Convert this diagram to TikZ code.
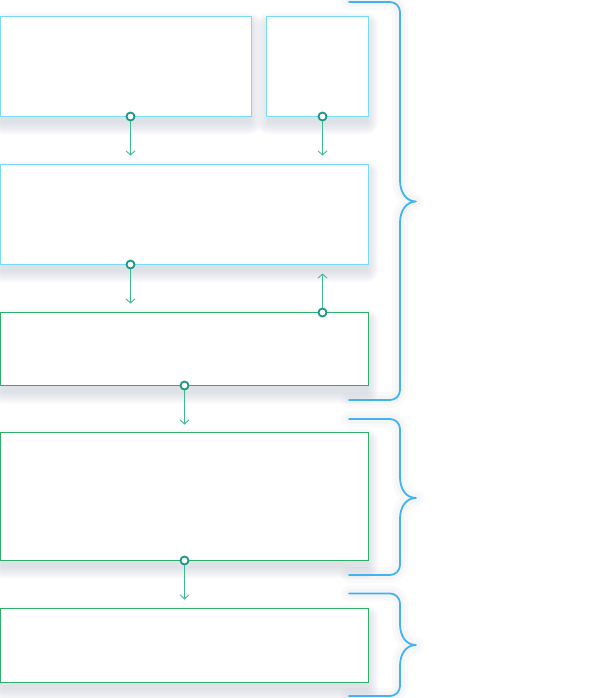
\documentclass[tikz,border=0pt]{standalone}
\usetikzlibrary{arrows.meta,calc,backgrounds}
\definecolor{cyanbd}{RGB}{120,220,248}
\definecolor{greenbd}{RGB}{45,175,105}
\definecolor{conncol}{RGB}{60,185,145}
\definecolor{dotcol}{RGB}{25,155,130}
\definecolor{bracecol}{RGB}{65,180,240}
\definecolor{shadowcol}{RGB}{60,70,110}
\tikzset{
  boxbase/.style={draw, fill=white, inner sep=0pt, outer sep=0pt, anchor=north west, line width=1pt},
  cbox/.style={boxbase, draw=cyanbd},
  gbox/.style={boxbase, draw=greenbd},
  dot/.style={circle, draw=dotcol, fill=white, line width=1.8pt, minimum size=8pt, inner sep=0pt},
  conn/.style={draw=conncol, line width=0.9pt, -{Straight Barb[length=4pt,width=9pt,line width=0.9pt]}},
  bracepath/.style={draw=bracecol, line width=1.8pt, line cap=round, line join=round,
    preaction={draw=shadowcol, draw opacity=0.022, line width=16pt, line join=round, line cap=round},
    preaction={draw=shadowcol, draw opacity=0.022, line width=9pt, line join=round, line cap=round}}
}
\begin{document}
\begin{tikzpicture}[x=1pt,y=-1pt]
\useasboundingbox (0,0) rectangle (598,698);
% boxes
\node[cbox, minimum width=251pt, minimum height=100pt] (A) at (0.5,16.5) {};
\node[cbox, minimum width=102pt, minimum height=100pt] (B) at (266.5,16.5) {};
\node[cbox, minimum width=368pt, minimum height=100pt] (C) at (0.5,164.5) {};
\node[gbox, minimum width=368pt, minimum height=73pt] (D) at (0.5,312.5) {};
\node[gbox, minimum width=368pt, minimum height=128pt] (E) at (0.5,432.5) {};
\node[gbox, minimum width=368pt, minimum height=74pt] (F) at (0.5,608.5) {};
% soft shadows
\begin{scope}[on background layer]
\fill[white] (0,0) rectangle (598,698);
\foreach \n in {A,B,C,D,E,F}{
  \foreach \i in {1,...,12}{
    \fill[shadowcol, fill opacity=0.011, rounded corners=\i pt]
      ($(\n.north west)+(-\i+2,-\i+8)$) rectangle ($(\n.south east)+(\i-2,\i+6)$);
  }
}
\end{scope}
% connector start dots
\path (A.south west) ++(130,0) node[dot] (a1) {};
\path (B.south west) ++(56,0) node[dot] (b1) {};
\path (C.south west) ++(130,0) node[dot] (c1) {};
\path (D.north west) ++(322,0) node[dot] (d1) {};
\path (D.south west) ++(184,0) node[dot] (d2) {};
\path (E.south west) ++(184,0) node[dot] (e1) {};
% free ends
\coordinate (a1e) at ($(a1)+(0,39)$);
\coordinate (b1e) at ($(b1)+(0,39)$);
\coordinate (c1e) at ($(c1)+(0,39)$);
\coordinate (d1e) at ($(d1)+(0,-39)$);
\coordinate (d2e) at ($(d2)+(0,39)$);
\coordinate (e1e) at ($(e1)+(0,39)$);
\draw[conn] (a1.south) -- (a1e);
\draw[conn] (b1.south) -- (b1e);
\draw[conn] (c1.south) -- (c1e);
\draw[conn] (d1.north) -- (d1e);
\draw[conn] (d2.south) -- (d2e);
\draw[conn] (e1.south) -- (e1e);
% braces
\draw[bracepath] (349,2) -- (390,2) .. controls (395.5,2) and (400,6.5) .. (400,12)
  -- (400,180) .. controls (400,192) and (406,201.5) .. (416,201.5)
  .. controls (406,201.5) and (400,211) .. (400,223)
  -- (400,390) .. controls (400,395.5) and (395.5,400) .. (390,400) -- (349,400);
\draw[bracepath] (349,419) -- (390,419) .. controls (395.5,419) and (400,423.5) .. (400,429)
  -- (400,477) .. controls (400,489) and (406,498) .. (416,498)
  .. controls (406,498) and (400,507) .. (400,519)
  -- (400,565) .. controls (400,570.5) and (395.5,575) .. (390,575) -- (349,575);
\draw[bracepath] (349,593.5) -- (390,593.5) .. controls (395.5,593.5) and (400,598) .. (400,603.5)
  -- (400,624) .. controls (400,636) and (406,645) .. (416,645)
  .. controls (406,645) and (400,654) .. (400,666)
  -- (400,686) .. controls (400,691.5) and (395.5,696) .. (390,696) -- (349,696);
\end{tikzpicture}
\end{document}
